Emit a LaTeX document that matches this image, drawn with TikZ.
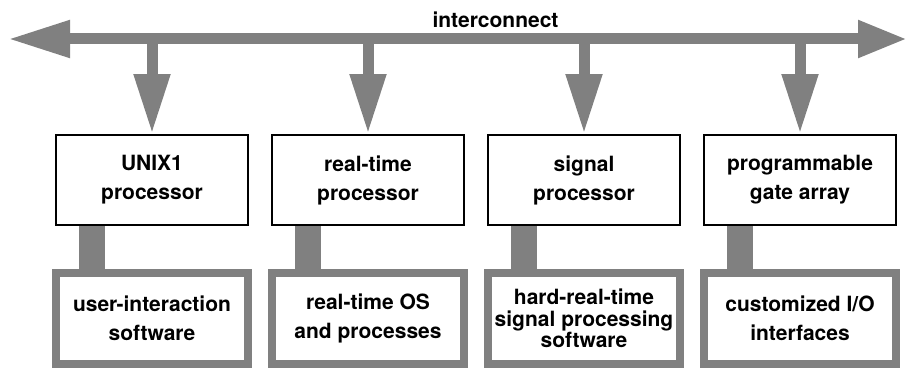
\documentclass[tikz,border=0pt]{standalone}
\usepackage{fontspec}
\setmainfont{TeX Gyre Heros}
\usepackage{tikz}
\usetikzlibrary{arrows.meta}

\begin{document}
\begin{tikzpicture}[x=1pt,y=-1pt,
	procbox/.style={draw=black,line width=2pt,fill=white,minimum width=192pt,minimum height=90pt,inner sep=0pt,align=center,font=\fontsize{21}{29}\selectfont\bfseries},
	softbox/.style={draw=gray,line width=8pt,fill=white,minimum width=192pt,minimum height=91pt,inner sep=0pt,align=center,font=\fontsize{21}{29}\selectfont\bfseries},
	busarrow/.style={draw=gray,line width=11pt,{Triangle[length=62pt,width=35pt]}-{Triangle[length=49pt,width=35pt]}},
	taparrow/.style={draw=gray,line width=11pt,-{Triangle[length=60pt,width=34pt]}},
	linkbar/.style={draw=gray,line width=26pt}]

	\useasboundingbox (0,0) rectangle (907,369);

	\node[procbox] (unix) at (152,180) {UNIX1\\processor};
	\node[procbox] (rtproc) at (368,180) {real-time\\processor};
	\node[procbox] (sigproc) at (584,180) {signal\\processor};
	\node[procbox] (gatearr) at (800,180) {programmable\\gate array};

	\node[softbox] (uisoft) at (152,318.5) {user-interaction\\software};
	\node[softbox] (rtos) at (368,318.5) {real-time OS\\and processes};
	\node[softbox,font=\fontsize{21}{21.5}\selectfont\bfseries] (hrtsoft) at (584,318.5) {hard-real-time\\signal processing\\software};
	\node[softbox] (custio) at (800,318.5) {customized I/O\\interfaces};

	\coordinate (busL) at (8,39);
	\coordinate (busR) at (907,39);
	\draw[busarrow] (busL) -- (busR);
	\node[anchor=base,font=\fontsize{21}{29}\selectfont\bfseries] (buslabel) at (495.5,28) {interconnect};

	\draw[taparrow] (unix.north |- busL) -- (unix.north);
	\draw[taparrow] (rtproc.north |- busL) -- (rtproc.north);
	\draw[taparrow] (sigproc.north |- busL) -- (sigproc.north);
	\draw[taparrow] (gatearr.north |- busL) -- (gatearr.north);

	\coordinate (link1) at ([xshift=37pt]unix.south west);
	\coordinate (link2) at ([xshift=37pt]rtproc.south west);
	\coordinate (link3) at ([xshift=37pt]sigproc.south west);
	\coordinate (link4) at ([xshift=37pt]gatearr.south west);
	\draw[linkbar] (link1) -- (link1 |- uisoft.north);
	\draw[linkbar] (link2) -- (link2 |- rtos.north);
	\draw[linkbar] (link3) -- (link3 |- hrtsoft.north);
	\draw[linkbar] (link4) -- (link4 |- custio.north);
\end{tikzpicture}
\end{document}
